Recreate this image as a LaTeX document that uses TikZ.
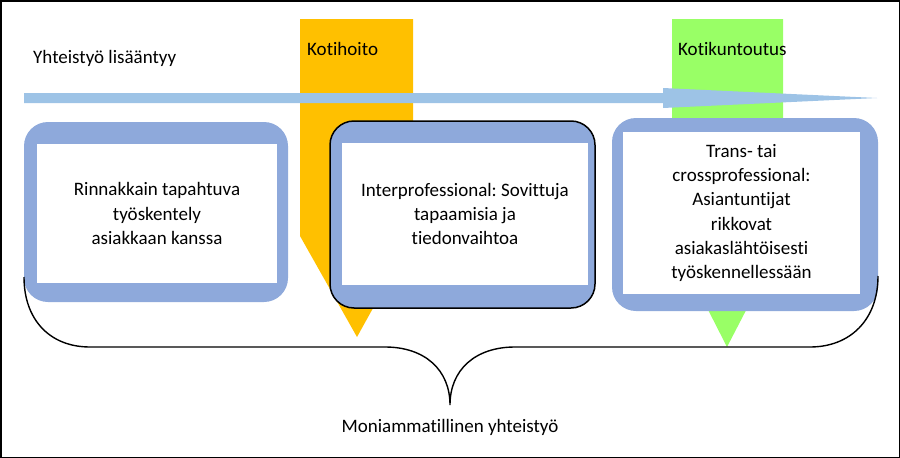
\documentclass[tikz,border=0pt]{standalone}
\usepackage{fontspec}
\setmainfont{Carlito}[Ligatures={NoCommon,NoContextual}]
\frenchspacing
\usetikzlibrary{positioning}
\definecolor{boxblue}{HTML}{8EA9DB}
\definecolor{arrowblue}{HTML}{9DC3E6}
\definecolor{kotiyellow}{HTML}{FFC000}
\definecolor{kotigreen}{HTML}{99FF66}

\begin{document}
\begin{tikzpicture}[x=1pt, y=-1pt,
		boxframe/.style={rectangle, rounded corners=24pt, fill=boxblue, inner sep=0pt},
		boxinner/.style={rectangle, fill=white, inner sep=0pt, align=center, font=\fontsize{19}{24.3}\selectfont},
		txt/.style={inner sep=0pt, font=\fontsize{19}{24.3}\selectfont}]
		
		\useasboundingbox (0,0) rectangle (900,458);
		\draw[line width=1.5pt] (0.75,0.75) rectangle (899.25,457.25);
		
		% Callouts
		\fill[kotiyellow] (300,19) -- (413,19) -- (413,236) -- (357,337) -- (300,236) -- cycle;
		\fill[kotigreen] (672,19) -- (783,19) -- (783,239) -- (727,347) -- (672,239) -- cycle;
		\node[txt, anchor=base west] (kotihoito) at (307,55) {Kotihoito};
		\node[txt, anchor=base west] (kotikuntoutus) at (678,55) {Kotikuntoutus};
		
		% Nuoli
		\node[txt, anchor=base west] (lisaantyy) at (33,63) {Yhteistyö lisääntyy};
		\fill[arrowblue] (24,93) -- (663,93) -- (663,88) -- (877,98) -- (663,108) -- (663,103) -- (24,103) -- cycle;
		
		% Laatikot
		\node[boxframe, minimum width=264pt, minimum height=180pt] (rinn_f) at (156,212) {};
		\node[boxinner, minimum width=240pt, minimum height=139pt] (rinn) at (157,213.5)
			{Rinnakkain tapahtuva\\työskentely\\asiakkaan kanssa};
		
		\node[boxframe, draw=black, line width=1.5pt, minimum width=265pt, minimum height=187pt] (inter_f) at (462.5,214.5) {};
		\node[boxinner, minimum width=246pt, minimum height=142pt] (inter) at (465,214)
			{Interprofessional: Sovittuja\\tapaamisia ja\\tiedonvaihtoa};
		
		\node[boxframe, minimum width=266pt, minimum height=193pt] (trans_f) at (745,214.5) {};
		\node[boxinner, minimum width=237pt, minimum height=162pt] (trans) at (741.5,213)
			{Trans- tai\\crossprofessional:\\Asiantuntijat\\rikkovat\\asiakaslähtöisesti\\työskennellessään};
		
		% Aaltosulje
		\coordinate (brace_l) at (24,277);
		\coordinate (brace_m) at (450,405);
		\coordinate (brace_r) at (878,276);
		\draw[line width=1.4pt] (brace_l) .. controls (24,320) and (50,347) .. (90,347) -- (385,347)
			.. controls (425,347) and (450,370) .. (brace_m)
			.. controls (450,370) and (475,347) .. (515,347) -- (810,347)
			.. controls (850,347) and (878,320) .. (brace_r);
		\node[txt, anchor=base] (moniamm) at (450,432) {Moniammatillinen yhteistyö};
		
	\end{tikzpicture}
\end{document}
